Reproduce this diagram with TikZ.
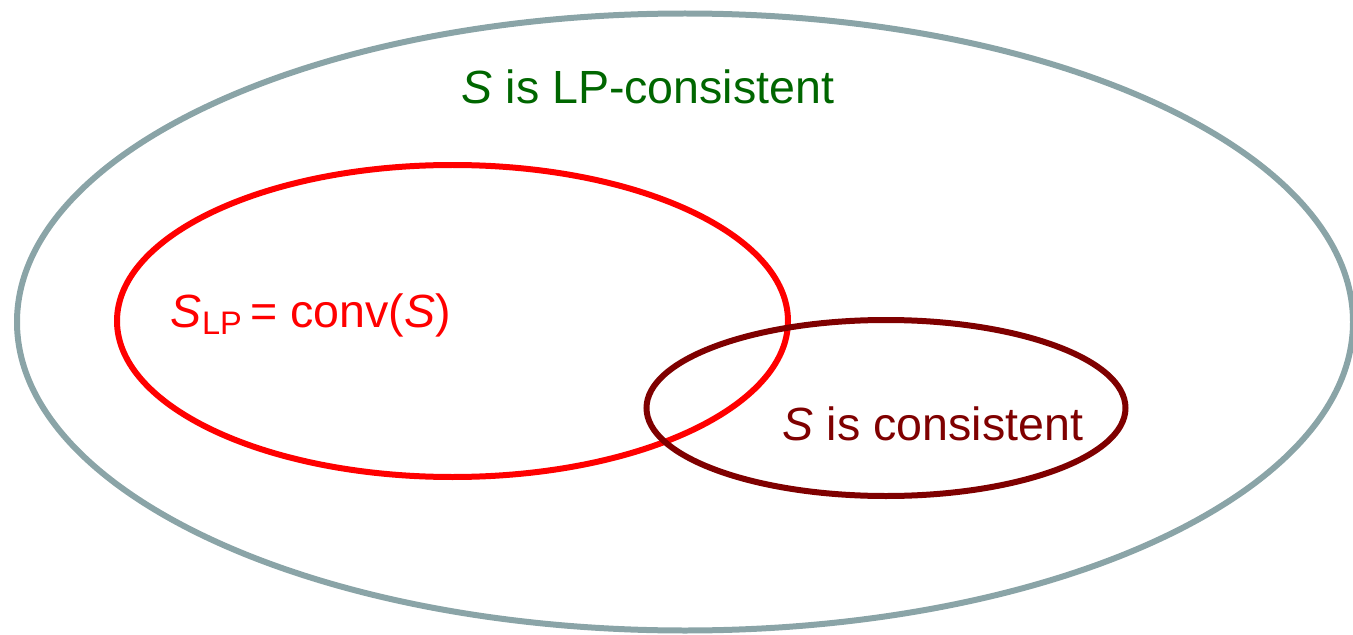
\documentclass[tikz,border=0pt]{standalone}
\usepackage{fontspec}
\setmainfont{Liberation Sans}
\usetikzlibrary{shapes.geometric}
\definecolor{outerc}{HTML}{8AA4A7}
\definecolor{greenc}{HTML}{006600}
\definecolor{redc}{HTML}{FF0000}
\definecolor{darkredc}{HTML}{7F0000}
\begin{document}
\begin{tikzpicture}[x=0.02cm,y=-0.02cm,
  ring/.style={ellipse,line width=0.12cm,inner sep=0pt,outer sep=0pt},
  lbl/.style={inner sep=0pt,font=\fontsize{26.5}{30}\selectfont}]
\useasboundingbox (0,0) rectangle (1353,635);
\node[ring,draw=outerc,minimum width=1336*0.02cm,minimum height=617*0.02cm] (outer) at (685,322) {};
\node[ring,draw=redc,minimum width=671*0.02cm,minimum height=312*0.02cm] (lp) at (452.5,321) {};
\node[ring,draw=darkredc,minimum width=479*0.02cm,minimum height=176*0.02cm] (cons) at (886,408) {};
\node[lbl,text=greenc] (t1) at (648,87) {\textit{S} is LP-consistent};
\node[lbl,text=redc] (t2) at (311,315) {\textit{S}\textsubscript{LP}\,= conv(\textit{S})};
\node[lbl,text=darkredc] (t3) at (933,424) {\textit{S} is consistent};
\end{tikzpicture}
\end{document}
